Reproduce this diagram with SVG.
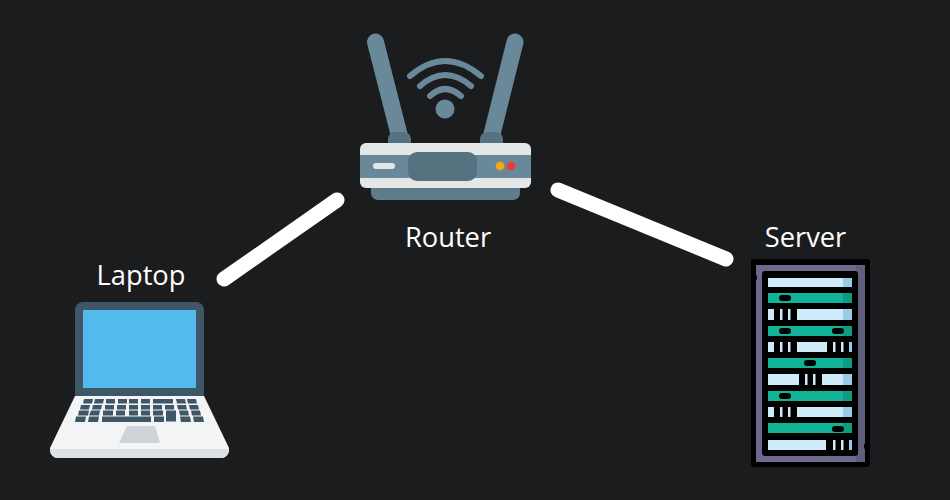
<svg xmlns="http://www.w3.org/2000/svg" width="950" height="500" viewBox="0 0 950 500">
<style>
text{font-family:"Open Sans","Noto Sans",sans-serif;font-size:27.300px;fill:#fff;text-anchor:middle}
.link{stroke:#fff;stroke-width:15;stroke-linecap:round;fill:none}
.ant{stroke:#69899a;stroke-width:17;stroke-linecap:round;fill:none}
.wave{stroke:#69899a;stroke-width:6;stroke-linecap:round;fill:none}
.key{fill:#3f5666}
.lt{fill:#cfeaf8}
.ltd{fill:#98cbe6}
.te{fill:#12b296}
.ted{fill:#0e9b84}
.pill{fill:#000}
</style>
<rect width="950" height="500" fill="#1b1c1e"/>
<g id="connectors">
<line class="link" x1="224" y1="279" x2="337" y2="200"/>
<line class="link" x1="558" y1="190" x2="726" y2="259"/>
</g>
<g id="router">
<line class="ant" x1="375.500" y1="42" x2="400" y2="138"/>
<line class="ant" x1="515" y1="42" x2="491" y2="138"/>
<path d="M388 143v-4a7 7 0 0 1 7-7h9a7 7 0 0 1 7 7v4zM480 143v-4a7 7 0 0 1 7-7h9a7 7 0 0 1 7 7v4z" fill="#56717f"/>
<path class="wave" d="M410 76Q445 46 481 76"/>
<path class="wave" d="M420 86Q445 64 471 86"/>
<path class="wave" d="M430 96Q445 82 461 96"/>
<circle cx="445" cy="109" r="9.500" fill="#69899a"/>
<path d="M371 188h149v5a7 7 0 0 1-7 7h-135a7 7 0 0 1-7-7z" fill="#5f7c8b"/>
<rect x="360" y="143" width="171" height="45" rx="6" fill="#e4e7e6"/>
<rect x="360" y="155" width="171" height="23" fill="#69899a"/>
<rect x="408" y="152" width="69" height="29" rx="9" fill="#56717f"/>
<rect x="373" y="163" width="22" height="6" rx="3" fill="#e4e7e6"/>
<circle cx="500" cy="166" r="4.300" fill="#f5a90f"/>
<circle cx="511" cy="166" r="4.300" fill="#ec3a35"/>
<text x="448" y="247">Router</text>
</g>
<g id="laptop">
<rect x="75" y="302" width="129" height="100" rx="8" fill="#3f5666"/>
<rect x="83" y="310" width="113" height="78" fill="#52baec"/>
<path d="M75 396H204L229 448V450A8 8 0 0 1 221 458H58A8 8 0 0 1 50 450V448Z" fill="#f3f4f5"/>
<path d="M50 449H229V450A8 8 0 0 1 221 458H58A8 8 0 0 1 50 450Z" fill="#dde0e3"/>
<path d="M127 426H155L160 443H119Z" fill="#cdd3d9"/>
<g class="key">
<path d="M84 399h9l-1 4.500h-9zM95 399h9l-1 4.500h-9zM106 399h9v4.500h-9zM118 399h9v4.500h-9zM129 399h9v4.500h-9zM141 399h9v4.500h-9zM153 399h20v4.500h-20zM176 399h9l1 4.500h-9zM187 399h9l1 4.500h-9z"/>
<path d="M81 405h9l-1 4.500h-9zM93 405h9l-1 4.500h-9zM105 405h9v4.500h-9zM117 405h9v4.500h-9zM129 405h9v4.500h-9zM141 405h9v4.500h-9zM153 405h9v4.500h-9zM165 405h9v4.500h-9zM177 405h9l1 4.500h-9zM189 405h9l1 4.500h-9z"/>
<path d="M79 410.500h10l-1 5h-10zM91 410.500h9l-1 5h-10zM103 410.500h10v5h-10zM116 410.500h9v5h-9zM129 410.500h9v5h-9zM141 410.500h9v5h-9zM153 410.500h10v5h-10zM166 410.500h10v11h-10zM179 410.500h9l1 5h-9zM191 410.500h9l1 5h-9z"/>
<path d="M76 416.500h10l-1 5.500h-10zM89 416.500h10l-1 5.500h-10zM102 416.500h49v5.500h-49zM154 416.500h10v5.500h-10zM180 416.500h10l1 5.500h-10zM193 416.500h10l1 5.500h-10z"/>
</g>
<text x="141" y="285">Laptop</text>
</g>
<g id="server">
<rect x="751" y="259" width="119" height="208" rx="3" fill="#000"/>
<rect x="756" y="265" width="109" height="197" fill="#6b6a8c"/>
<rect x="856" y="265" width="9" height="197" fill="#5f5e7d"/>
<rect x="762" y="271" width="96" height="185" rx="3" fill="#000"/>
<g class="te">
<rect x="768" y="293" width="84" height="10"/>
<rect x="768" y="326" width="84" height="10"/>
<rect x="768" y="358" width="84" height="10"/>
<rect x="768" y="391" width="84" height="10"/>
<rect x="768" y="423" width="84" height="10"/>
</g>
<g class="ted">
<rect x="843" y="293" width="9" height="10"/>
<rect x="843" y="326" width="9" height="10"/>
<rect x="843" y="358" width="9" height="10"/>
<rect x="843" y="391" width="9" height="10"/>
<rect x="843" y="423" width="9" height="10"/>
</g>
<g class="lt">
<rect x="768" y="278" width="84" height="9"/>
<path d="M768 309h6v11h-6zM780 309h2.500v11h-2.500zM788 309h2.500v11h-2.500zM797 309h55v11h-55z"/>
<path d="M768 342h6v10h-6zM780 342h2.500v10h-2.500zM788 342h2.500v10h-2.500zM797 342h30v10h-30zM833 342h2.500v10h-2.500zM841 342h2.500v10h-2.500zM849 342h3v10h-3z"/>
<path d="M768 374h31v11h-31zM805 374h2.500v11h-2.500zM813 374h2.500v11h-2.500zM822 374h30v11h-30z"/>
<path d="M768 407h6v10h-6zM780 407h2.500v10h-2.500zM788 407h2.500v10h-2.500zM797 407h55v10h-55z"/>
<path d="M768 440h58v10h-58zM833 440h2.500v10h-2.500zM841 440h2.500v10h-2.500zM849 440h3v10h-3z"/>
</g>
<g class="ltd">
<rect x="843" y="278" width="9" height="9"/>
<rect x="843" y="309" width="9" height="11"/>
<rect x="849" y="342" width="3" height="10"/>
<rect x="843" y="374" width="9" height="11"/>
<rect x="843" y="407" width="9" height="10"/>
<rect x="849" y="440" width="3" height="10"/>
</g>
<g class="pill">
<rect x="768" y="287" width="72" height="6" rx="3"/>
<rect x="847" y="287" width="6" height="6" rx="3"/>
<rect x="779" y="295" width="12" height="6" rx="3"/>
<rect x="779" y="328" width="12" height="6" rx="3"/>
<rect x="832" y="328" width="12" height="6" rx="3"/>
<rect x="804" y="360" width="12" height="6" rx="3"/>
<rect x="779" y="393" width="12" height="6" rx="3"/>
<rect x="832" y="426" width="12" height="6" rx="3"/>
<rect x="751" y="274" width="6" height="7" rx="3"/>
<rect x="864" y="443" width="6" height="7" rx="3"/>
</g>
<text x="805.500" y="247">Server</text>
</g>
</svg>
